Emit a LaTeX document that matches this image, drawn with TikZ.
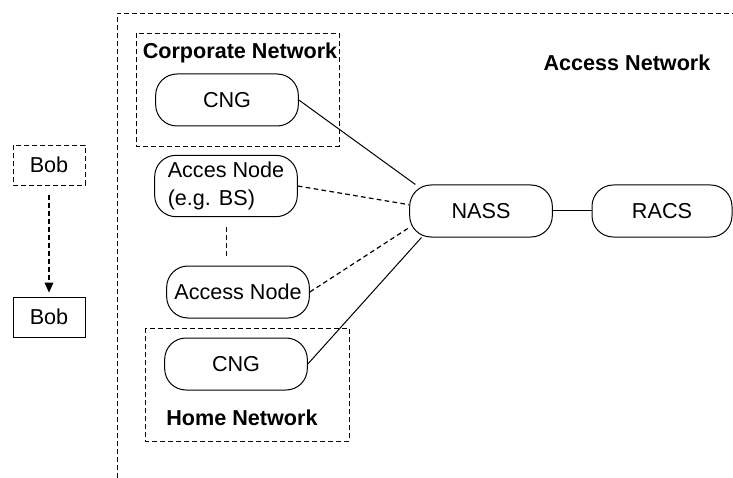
\documentclass[tikz,border=0pt]{standalone}
\usepackage{fontspec}
\setmainfont{Liberation Sans}
\usetikzlibrary{arrows.meta}
\newcommand{\netfont}{\fontsize{16.2}{21.5}\selectfont}
\tikzset{
    pill/.style={rectangle,rounded corners=16pt,draw,line width=0.75pt,minimum width=107pt,minimum height=39pt,inner sep=1pt,font=\netfont},
    person/.style={rectangle,draw,line width=0.6pt,minimum width=54pt,minimum height=30pt,font=\netfont},
    dashes/.style={dash pattern=on 3.5pt off 2.5pt},
    netbox/.style={draw,dashes,line width=0.7pt},
    netlabel/.style={font=\netfont\bfseries},
    solidlink/.style={line width=0.75pt},
    dashlink/.style={dashes,line width=0.9pt}
}

\begin{document}
\begin{tikzpicture}[x=0.75pt,y=-0.75pt,>=Stealth]
    \useasboundingbox (0,0) rectangle (733,478);
    % Access network frame
    \draw[netbox] (117,478) -- (117,13) -- (733,13);
    \node[netlabel] (accesslbl) at (627,63) {Access Network};
    % Corporate and home networks
    \draw[netbox] (136,33) rectangle (339,146);
    \node[netlabel] (corplbl) at (240,53) {Corporate Network};
    \draw[netbox] (145,328) rectangle (349,441);
    \node[netlabel] (homelbl) at (242,418) {Home Network};
    % Network nodes
    \node[pill] (cngcorp) at (227,100) {CNG};
    \node[pill,minimum height=46pt,align=left] (acbs) at (226,186) {Acces Node\\(e.g. BS)};
    \node[pill] (acnode) at (238,292) {Access Node};
    \node[pill] (cnghome) at (236,364) {CNG};
    \node[pill] (nass) at (481,211) {NASS};
    \node[pill,minimum width=105pt] (racs) at (662,211) {RACS};
    % Bob
    \node[person,dashes] (bobold) at (49,165) {Bob};
    \node[person] (bobnew) at (49,317) {Bob};
    % Links
    \draw[solidlink] (cngcorp.east) -- (nass.158);
    \draw[dashlink] (acbs.east) -- (nass.175);
    \draw[dashlink] (acnode.east) -- (nass.193);
    \draw[solidlink] (cnghome.east) -- (nass.204);
    \draw[solidlink] (nass) -- (racs);
    \draw[dashlink,line width=0.6pt,shorten <=7.5pt,shorten >=7.5pt] (acbs.south) -- (acbs.south |- acnode.north);
    \draw[dashlink,-{Triangle[length=7.5pt,width=6.5pt]},shorten <=7.5pt,shorten >=3pt] (bobold) -- (bobnew);
\end{tikzpicture}
\end{document}
